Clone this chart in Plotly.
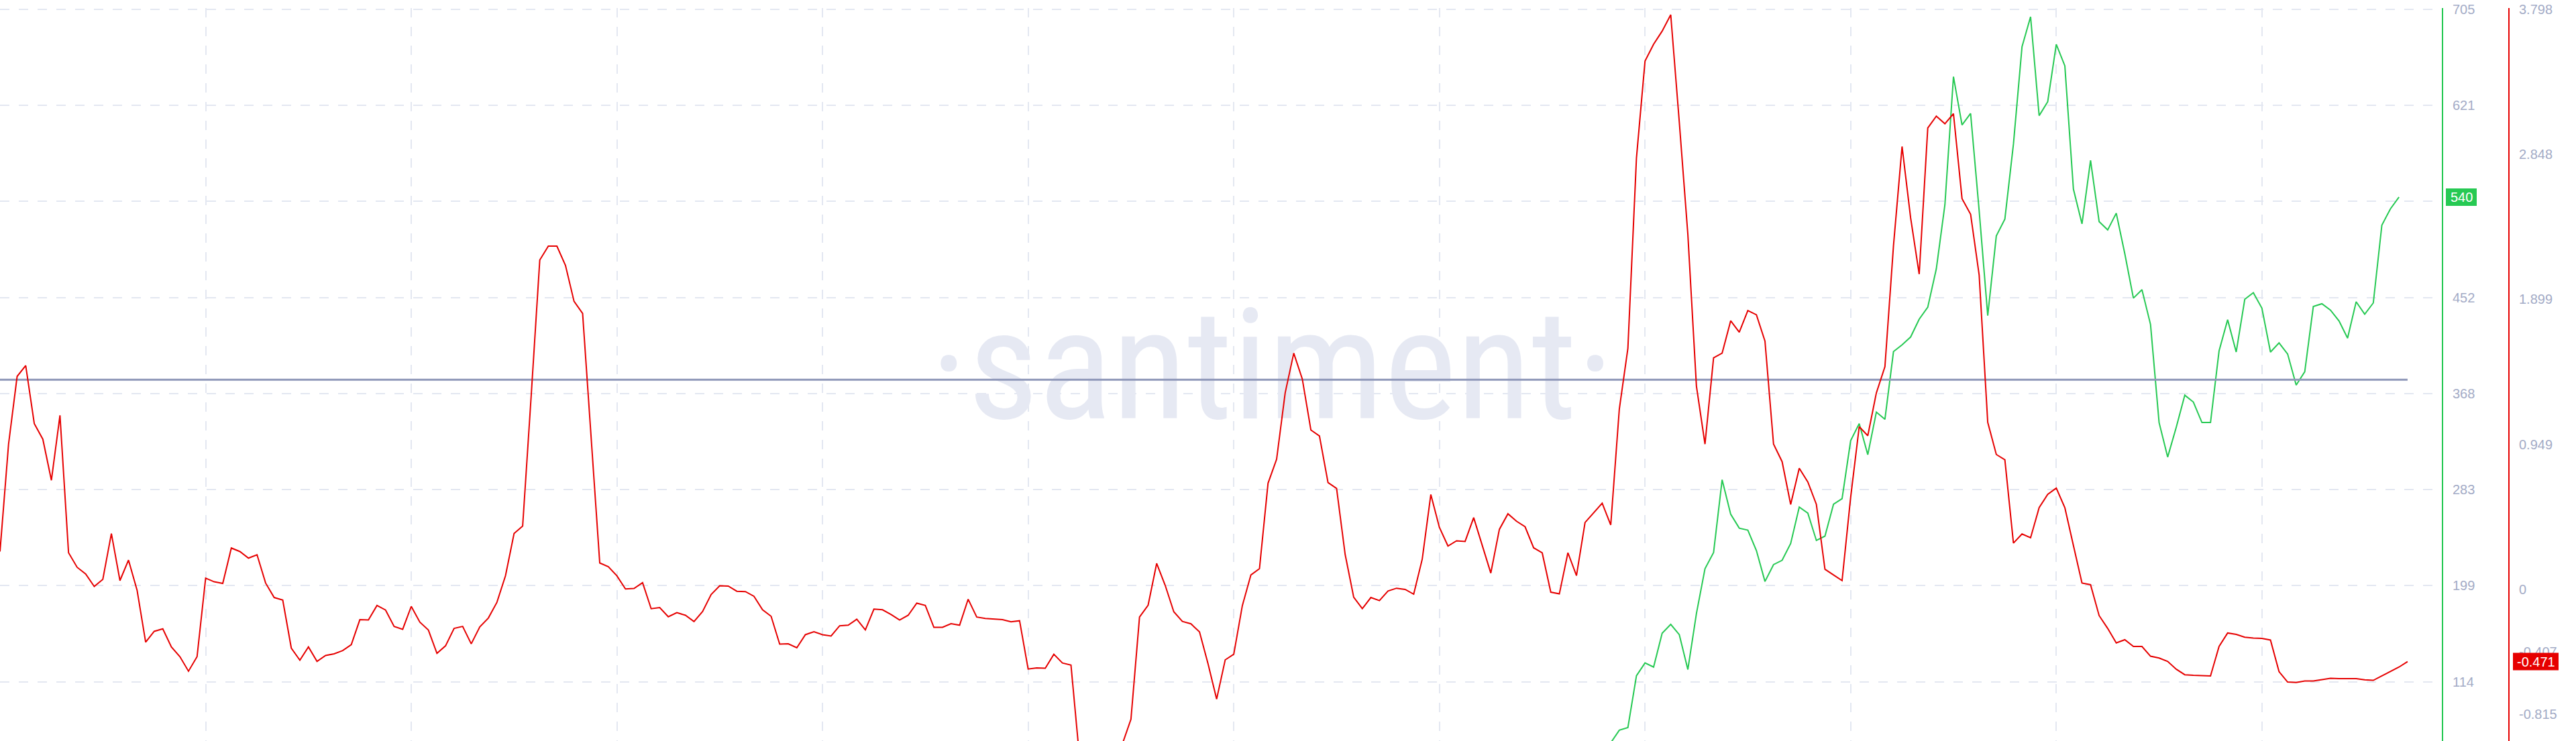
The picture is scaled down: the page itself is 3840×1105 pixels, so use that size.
import plotly.graph_objects as go

# ---------------- data ----------------
red_values = [
    0.249, 0.952, 1.395, 1.466, 1.086, 0.984, 0.715, 1.14, 0.241, 0.146,
    0.102, 0.020, 0.067, 0.367, 0.059, 0.193, -0.004, -0.344, -0.273, -0.257,
    -0.375, -0.439, -0.534, -0.439, 0.075, 0.051, 0.040, 0.272, 0.249, 0.206,
    0.228, 0.043, -0.052, -0.068, -0.383, -0.462, -0.375, -0.470, -0.431, -0.420,
    -0.399, -0.360, -0.197, -0.199, -0.104, -0.134, -0.241, -0.260, -0.110, -0.213,
    -0.265, -0.417, -0.368, -0.254, -0.241, -0.355, -0.244, -0.186, -0.083, 0.091,
    0.367, 0.415, 1.27, 2.156, 2.247, 2.247, 2.121, 1.886, 1.807, 1.0,
    0.174, 0.150, 0.090, 0.004, 0.007, 0.045, -0.125, -0.118, -0.178, -0.151,
    -0.168, -0.209, -0.144, -0.032, 0.025, 0.023, -0.011, -0.013, -0.044, -0.132,
    -0.175, -0.357, -0.355, -0.381, -0.295, -0.276, -0.295, -0.304, -0.237, -0.233,
    -0.194, -0.264, -0.128, -0.132, -0.163, -0.199, -0.168, -0.089, -0.104, -0.247,
    -0.247, -0.223, -0.233, -0.063, -0.180, -0.189, -0.192, -0.197, -0.211, -0.204,
    -0.520, -0.513, -0.515, -0.423, -0.480, -0.494, -1.10, -1.22, -1.28, -1.20,
    -1.10, -1.01, -0.848, -0.180, -0.103, 0.171, 0.027, -0.145, -0.208, -0.224,
    -0.277, -0.486, -0.717, -0.460, -0.423, -0.105, 0.096, 0.137, 0.696, 0.853,
    1.287, 1.547, 1.378, 1.044, 1.005, 0.700, 0.662, 0.230, -0.050, -0.125,
    -0.052, -0.072, -0.009, 0.009, 0.001, -0.030, 0.200, 0.622, 0.407, 0.285,
    0.319, 0.315, 0.471, 0.285, 0.108, 0.394, 0.496, 0.447, 0.411, 0.273,
    0.240, -0.017, -0.028, 0.241, 0.091, 0.439, 0.502, 0.565, 0.423, 1.181,
    1.579, 2.824, 3.458, 3.568, 3.654, 3.761, 3.059, 2.323, 1.331, 0.952,
    1.516, 1.547, 1.759, 1.684, 1.826, 1.798, 1.626, 0.952, 0.837, 0.557,
    0.794, 0.704, 0.557, 0.133, 0.096, 0.059, 0.604, 1.066, 1.007, 1.287,
    1.458, 2.25, 2.899, 2.432, 2.064, 3.020, 3.098, 3.048, 3.114, 2.558,
    2.456, 2.057, 1.094, 0.884, 0.849, 0.304, 0.364, 0.339, 0.536, 0.623,
    0.664, 0.536, 0.288, 0.043, 0.032, -0.170, -0.254, -0.349, -0.328, -0.372,
    -0.372, -0.436, -0.448, -0.470, -0.521, -0.557, -0.561, -0.562, -0.565, -0.372,
    -0.284, -0.293, -0.312, -0.317, -0.319, -0.330, -0.537, -0.605, -0.608, -0.598,
    -0.598, -0.589, -0.581, -0.583, -0.583, -0.583, -0.590, -0.594, -0.565, -0.537,
    -0.507, -0.471,
]

green_start = 188
green_values = [
    61.0, 72.1, 74.4, 119.9, 131.1, 127.5, 157.2, 165.0, 155.9, 125.3,
    174.5, 213.8, 228.0, 291.9, 261.6, 249.4, 247.7, 229.7, 202.6, 217.4,
    221.2, 236.0, 267.9, 262.6, 238.6, 242.4, 270.4, 275.3, 326.2, 341.1,
    313.9, 351.3, 344.9, 404.4, 410.3, 417.2, 432.8, 443.3, 477.1, 533.2,
    645.7, 603.3, 613.4, 528.0, 436.0, 505.9, 520.7, 586.5, 672.0, 698.3,
    611.5, 623.7, 674.1, 655.2, 547.0, 516.5, 572.2, 518.5, 511.2, 525.9,
    490.2, 451.3, 458.7, 428.2, 342.1, 311.8, 337.9, 366.1, 360.1, 342.1,
    342.1, 405.0, 432.4, 404.0, 450.3, 456.1, 442.5, 404.0, 412.0, 402.3,
    375.0, 386.7, 444.0, 446.4, 440.8, 431.3, 416.2, 448.1, 437.2, 447.1,
    515.4, 529.7, 540.0,
]

reference_level = 1.373  # horizontal reference line (right/red scale)

green_tickvals = [705, 620.65, 536.3, 451.95, 367.6, 283.25, 198.9, 114.55]
green_ticktext = ["705", "621", "536", "452", "368", "283", "199", "114"]
red_tickvals = [3.798, 2.8485, 1.899, 0.9495, 0, -0.4075, -0.815]
red_ticktext = ["3.798", "2.848", "1.899", "0.949", "0", "-0.407", "-0.815"]
grid_positions = list(range(0, 282, 24))

# ---------------- style ----------------
W, H = 3840, 1105
TOP = 12
RED = "#e60000"
GREEN = "#26c953"
GRID = "#e3e7f1"
LABEL = "#a3abc6"
REFLINE = "#8e97b8"
WATERMARK = "#e6e9f3"
PLOT_RIGHT = 3640
RED_AXIS_X = 3740

red_x = list(range(len(red_values)))
green_x = list(range(green_start, green_start + len(green_values)))

# axis scales: value per pixel, with the top tick ~1.6 px under the plot top
g_per_px = 84.35 / 143.3
r_per_px = 0.9495 / 216.4
g_top = 705 + 1.6 * g_per_px
r_top = 3.798 + 1.6 * r_per_px
g_bottom = g_top - (H - TOP) * g_per_px
r_bottom = r_top - (H - TOP) * r_per_px

fig = go.Figure()

# watermark
fig.add_trace(go.Scatter(
    x=[148.5], y=[1.37], yaxis="y2", mode="text", text=["·santiment·"],
    textposition="middle center",
    textfont=dict(size=230, color=WATERMARK,
                  family="Liberation Sans Narrow, Roboto Condensed, DejaVu Sans Condensed, Liberation Sans"),
    hoverinfo="skip", showlegend=False,
))

# reference line
fig.add_trace(go.Scatter(
    x=[red_x[0], red_x[-1]], y=[reference_level, reference_level], yaxis="y2",
    mode="lines", line=dict(color=REFLINE, width=3), hoverinfo="skip", showlegend=False,
))

fig.add_trace(go.Scatter(
    x=green_x, y=green_values, yaxis="y", mode="lines",
    line=dict(color=GREEN, width=2), showlegend=False,
))
fig.add_trace(go.Scatter(
    x=red_x, y=red_values, yaxis="y2", mode="lines",
    line=dict(color=RED, width=2), showlegend=False,
))

tickfont = dict(size=20, color=LABEL, family="Liberation Sans, Arial, sans-serif")

fig.update_layout(
    width=W, height=H,
    margin=dict(l=0, r=0, t=TOP, b=0, pad=0),
    paper_bgcolor="white", plot_bgcolor="white",
    showlegend=False,
    xaxis=dict(
        domain=[0, PLOT_RIGHT / W], range=[0, 285],
        tickvals=grid_positions, showticklabels=False, ticks="",
        showgrid=True, gridcolor=GRID, griddash="14px,14px", gridwidth=1.5,
        zeroline=False, showline=False,
    ),
    yaxis=dict(
        side="right", anchor="x", range=[g_bottom, g_top],
        tickvals=green_tickvals, ticktext=green_ticktext, ticks="",
        showgrid=True, gridcolor=GRID, griddash="14px,14px", gridwidth=1.5,
        zeroline=False, showline=True, linecolor=GREEN, linewidth=2,
        tickfont=tickfont, ticklabelstandoff=10,
    ),
    yaxis2=dict(
        overlaying="y", side="right", anchor="free", position=RED_AXIS_X / W,
        range=[r_bottom, r_top],
        tickvals=red_tickvals, ticktext=red_ticktext, ticks="",
        showgrid=False, zeroline=False, showline=True, linecolor=RED, linewidth=2,
        tickfont=tickfont, ticklabelstandoff=10,
    ),
)

# last-value badges
g_last = green_values[-1]
r_last = red_values[-1]
fig.add_shape(type="rect", xref="paper", yref="y",
              x0=3646 / W, x1=3692 / W, y0=g_last - 13 * g_per_px, y1=g_last + 13 * g_per_px,
              fillcolor=GREEN, line=dict(width=0), layer="above")
fig.add_shape(type="rect", xref="paper", yref="y2",
              x0=3746 / W, x1=3814 / W, y0=r_last - 13 * r_per_px, y1=r_last + 13 * r_per_px,
              fillcolor=RED, line=dict(width=0), layer="above")
fig.add_annotation(xref="paper", yref="y", x=3669 / W, y=g_last, text=f"{g_last:.0f}",
                   showarrow=False, xanchor="center", yanchor="middle",
                   font=dict(size=20, color="white", family="Liberation Sans, Arial, sans-serif"))
fig.add_annotation(xref="paper", yref="y2", x=3780 / W, y=r_last, text=f"{r_last:.3f}",
                   showarrow=False, xanchor="center", yanchor="middle",
                   font=dict(size=20, color="white", family="Liberation Sans, Arial, sans-serif"))

fig.write_html("out.html", config={"displayModeBar": False},
               post_script="document.body.style.margin='0';document.body.style.overflow='hidden';")
